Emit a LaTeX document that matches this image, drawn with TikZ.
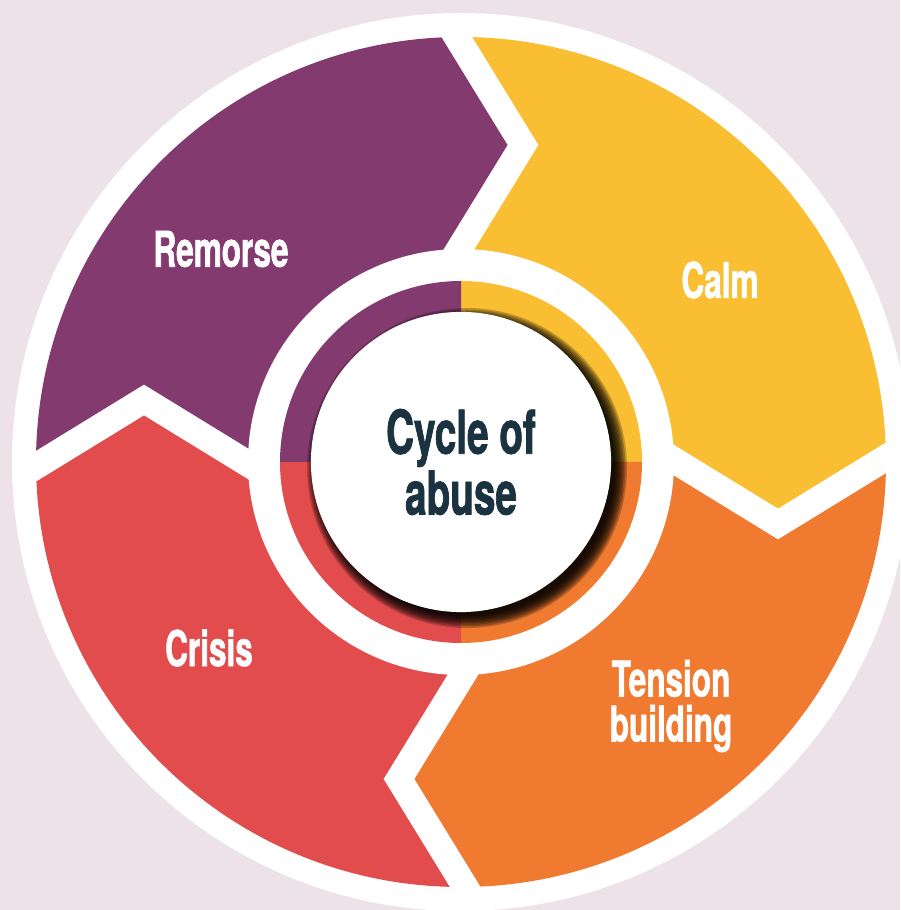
\documentclass[tikz,border=0pt]{standalone}
\usepackage{fontspec}
\setmainfont{TeX Gyre Heros}
\newfontfamily\phasefont{TeX Gyre Heros}[FakeStretch=0.64,FakeBold=1.2]
\usetikzlibrary{positioning}

\definecolor{bgpink}{RGB}{237,226,231}
\definecolor{colRemorse}{RGB}{131,58,111}
\definecolor{colCalm}{RGB}{249,190,50}
\definecolor{colTension}{RGB}{239,122,48}
\definecolor{colCrisis}{RGB}{227,76,77}
\definecolor{hubtext}{RGB}{27,51,64}

\begin{document}
\begin{tikzpicture}[x=0.01cm,y=0.01cm,
    phase/.style={text=white,font=\phasefont\bfseries\fontsize{14}{12.8}\selectfont,align=center},
    hub/.style={circle,fill=white,minimum size=3cm,inner sep=0pt,text=hubtext,
                font=\phasefont\bfseries\fontsize{17.2}{15.9}\selectfont,align=center}]

  \fill[bgpink] (-461,-448) rectangle (439,462);
  \useasboundingbox (-461,-448) rectangle (439,462);

  \fill[white] (0,0) circle [radius=449];

  % four chevron segments, one per quarter, clockwise from the top
  \foreach \col [count=\k from 0] in {colCalm,colTension,colCrisis,colRemorse} {
    \begin{scope}[rotate=-90*\k]
      \clip (0,0) circle [radius=425];
      \fill[\col] (-52.5,529) -- (77.5,317) -- (-52.5,105) -- (105,83.5)
                  -- (317,-46.5) -- (529,83.5) -- (600,600) -- cycle;
    \end{scope}
  }
  \fill[white] (0,0) circle [radius=213];

  % inner ring
  \foreach \col [count=\k from 0] in {colCalm,colTension,colCrisis,colRemorse}
    \fill[\col,rotate=-90*\k] (0,0) -- (0,181) arc [start angle=90,end angle=0,radius=181] -- cycle;

  % soft shadow under the hub
  \foreach \r in {148,149.5,...,161}
    \fill[black,opacity=0.22] (6,-6) circle [radius=\r];

  \node (hub) [hub] at (0,0) {Cycle of\\abuse};

  \node (remorse) [phase] at (-240,213)  {Remorse};
  \node (calm)    [phase] at (259,182)   {Calm};
  \node (crisis)  [phase] at (-252,-186) {Crisis};
  \node (tension) [phase] at (210,-244)  {Tension\\building};
\end{tikzpicture}
\end{document}
